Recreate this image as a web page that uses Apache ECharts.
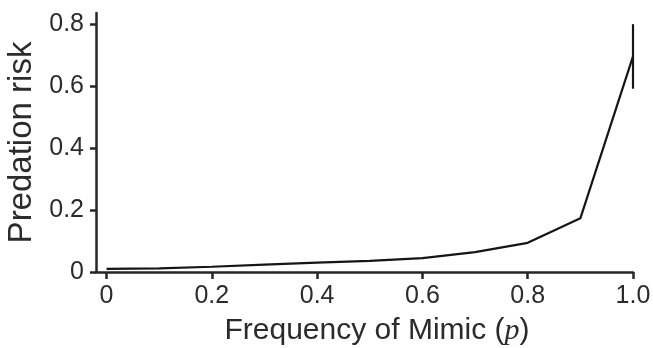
<!DOCTYPE html>
<html>
<head>
<meta charset="utf-8">
<script src="https://cdn.jsdelivr.net/npm/echarts@6/dist/echarts.min.js"></script>
<style>
  html, body { margin: 0; padding: 0; background: #fff; }
  #box1 { width: 653px; height: 348px; }
</style>
</head>
<body>
<div id="box1"></div>
<script>
// data
var freq = [0, 0.1, 0.2, 0.3, 0.4, 0.5, 0.6, 0.7, 0.8, 0.9, 1.0];
var risk = [0.010, 0.012, 0.017, 0.024, 0.030, 0.036, 0.045, 0.064, 0.094, 0.173, 0.695];
var riskErr = [0, 0, 0, 0, 0, 0, 0, 0, 0, 0, 0.104];
var xTicks = [0, 0.2, 0.4, 0.6, 0.8, 1.0];
var yTicks = [0, 0.2, 0.4, 0.6, 0.8];

var chart = echarts.init(document.getElementById('box1'));

var lineData = freq.map(function(p, i) {
  return [p, risk[i]];
});
var errData = [];
freq.forEach(function(p, i) {
  if (riskErr[i] > 0) {
    errData.push([p, risk[i] - riskErr[i], risk[i] + riskErr[i]]);
  }
});

var textColor = '#2b2b2b';
var axisColor = '#262626';

option = {
  animation: false,
  grid: {
    left: 96,
    right: 20,
    top: 13,
    bottom: 76,
    outerBoundsMode: 'none'
  },
  xAxis: {
    type: 'value',
    min: -0.02,
    max: 1,
    name: 'Frequency of Mimic ({i|p})',
    nameLocation: 'middle',
    nameGap: 44,
    nameTextStyle: {
      fontFamily: 'Liberation Sans',
      fontSize: 30,
      color: textColor,
      padding: [0, 0, 0, 25],
      rich: {
        i: {
          fontFamily: 'Liberation Serif',
          fontStyle: 'italic',
          fontSize: 30,
          color: textColor
        }
      }
    },
    splitLine: { show: false },
    axisLine: {
      show: true,
      onZero: false,
      lineStyle: { color: axisColor, width: 2.5 }
    },
    axisTick: {
      show: true,
      customValues: xTicks,
      length: 7,
      lineStyle: { color: axisColor, width: 2.5 }
    },
    axisLabel: {
      customValues: xTicks,
      margin: 12,
      fontFamily: 'Liberation Sans',
      fontSize: 25,
      color: textColor,
      formatter: function(v) {
        return v === 0 ? '0' : v.toFixed(1);
      }
    }
  },
  yAxis: {
    type: 'value',
    min: 0,
    max: 0.835,
    name: 'Predation risk',
    nameLocation: 'middle',
    nameGap: 58,
    nameTextStyle: {
      fontFamily: 'Liberation Sans',
      fontSize: 33,
      color: textColor
    },
    splitLine: { show: false },
    axisLine: {
      show: true,
      onZero: false,
      lineStyle: { color: axisColor, width: 2.5 }
    },
    axisTick: {
      show: true,
      customValues: yTicks,
      length: 6,
      lineStyle: { color: axisColor, width: 2.5 }
    },
    axisLabel: {
      customValues: yTicks,
      margin: 12,
      fontFamily: 'Liberation Sans',
      fontSize: 25,
      color: textColor,
      formatter: function(v) {
        return v === 0 ? '0' : v.toFixed(1);
      }
    }
  },
  series: [{
    name: 'Predation risk',
    type: 'line',
    data: lineData,
    symbol: 'none',
    lineStyle: { color: '#151515', width: 2.2 }
  }, {
    name: 'error',
    type: 'custom',
    data: errData,
    renderItem: function(params, api) {
      var lo = api.coord([api.value(0), api.value(1)]);
      var hi = api.coord([api.value(0), api.value(2)]);
      return {
        type: 'line',
        shape: { x1: lo[0], y1: lo[1], x2: hi[0], y2: hi[1] },
        style: { stroke: '#151515', lineWidth: 2.2 }
      };
    },
    z: 3
  }]
};

chart.setOption(option);
</script>
</body>
</html>
